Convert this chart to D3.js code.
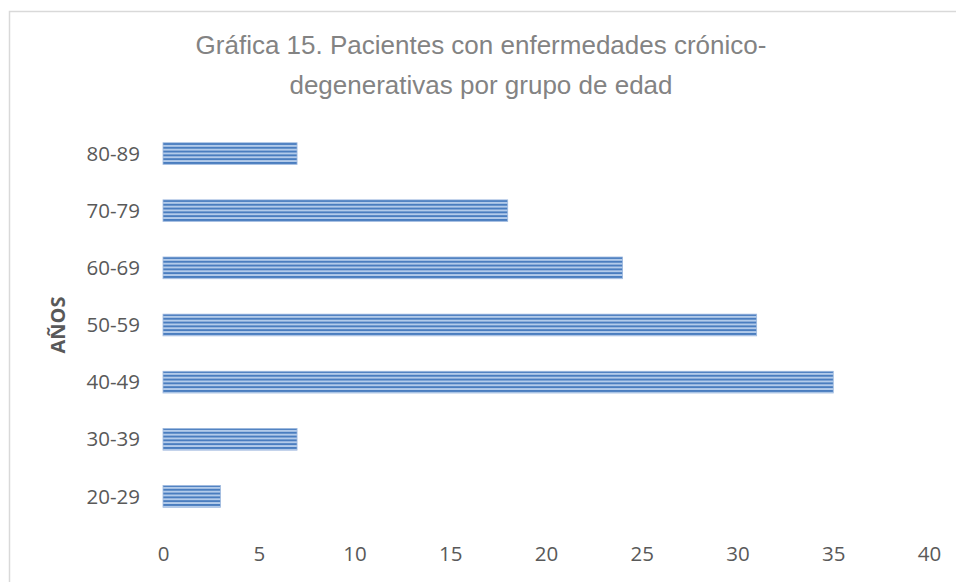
<!DOCTYPE html>
<html>
<head>
<meta charset="utf-8">
<script src="https://cdn.jsdelivr.net/npm/d3@7"></script>
<style>
  body { margin: 0; background: #fff; }
</style>
</head>
<body>
<div id="chart"></div>
<script>
var titleLines = ["Gráfica 15. Pacientes con enfermedades crónico-", "degenerativas por grupo de edad"];
var grupos = ["20-29", "30-39", "40-49", "50-59", "60-69", "70-79", "80-89"];
var pacientes = [3, 7, 35, 31, 24, 18, 7];
var xTicks = [0, 5, 10, 15, 20, 25, 30, 35, 40];
var yTitle = "AÑOS";

var width = 956, height = 582;
var margin = {top: 125, right: 27, bottom: 57, left: 163};

var svg = d3.select("#chart").append("svg")
  .attr("width", width)
  .attr("height", height);

// striped fill like the excel pattern
var defs = svg.append("defs");
var pat = defs.append("pattern")
  .attr("id", "stripes")
  .attr("patternUnits", "userSpaceOnUse")
  .attr("width", 8).attr("height", 3.8)
  .attr("y", 0.5);
pat.append("rect").attr("width", 8).attr("height", 3.8).attr("fill", "#b3cbea");
pat.append("rect").attr("y", 1.9).attr("width", 8).attr("height", 1.9).attr("fill", "#4a7dbf");

// chart border
svg.append("rect")
  .attr("x", 9.5).attr("y", 11.5)
  .attr("width", 960).attr("height", 600)
  .attr("fill", "none")
  .attr("stroke", "#d9d9d9")
  .attr("stroke-width", 1.5);

var x = d3.scaleLinear().domain([0, 40]).range([margin.left, margin.left + 40 * 19.15]);
var y = d3.scaleBand().domain(grupos.slice().reverse())
  .range([margin.top, height - margin.bottom])
  .paddingInner(0.62).paddingOuter(0.31);

var data = grupos.map(function(g, i) { return {g: g, v: pacientes[i]}; });

svg.selectAll(".bar")
  .data(data)
  .enter().append("rect")
  .attr("class", "bar")
  .attr("x", x(0))
  .attr("y", function(d) { return y(d.g); })
  .attr("width", function(d) { return x(d.v) - x(0); })
  .attr("height", y.bandwidth())
  .attr("fill", "url(#stripes)")
  .attr("stroke", "#9db8de")
  .attr("stroke-width", 0.8);

// y axis labels
var yAxis = svg.append("g")
  .attr("transform", "translate(" + (margin.left - 23) + ",0)")
  .call(d3.axisLeft(y).tickSize(0).tickPadding(0));
yAxis.select(".domain").remove();
yAxis.selectAll("text")
  .attr("font-family", "'Open Sans', sans-serif")
  .attr("font-size", 20.5)
  .attr("fill", "#595959")
  .attr("dy", "0.35em");

// x axis labels
var xAxis = svg.append("g")
  .attr("transform", "translate(0," + 546 + ")")
  .call(d3.axisBottom(x).tickValues(xTicks).tickSize(0).tickPadding(0));
xAxis.select(".domain").remove();
xAxis.selectAll("text")
  .attr("font-family", "'Open Sans', sans-serif")
  .attr("font-size", 20.5)
  .attr("fill", "#595959")
  .attr("dy", "0.75em");

// axis title
svg.append("text")
  .attr("transform", "translate(65,325) rotate(-90)")
  .attr("text-anchor", "middle")
  .attr("font-family", "'Open Sans', sans-serif")
  .attr("font-weight", "bold")
  .attr("font-size", 20)
  .attr("fill", "#595959")
  .text(yTitle);

// title
svg.append("g").selectAll("text")
  .data(titleLines)
  .enter().append("text")
  .attr("x", 481)
  .attr("y", function(d, i) { return 54 + i * 40; })
  .attr("text-anchor", "middle")
  .attr("font-family", "'Liberation Sans', Arial, sans-serif")
  .attr("font-size", 26)
  .attr("fill", "#838383")
  .text(function(d) { return d; });
</script>
</body>
</html>
